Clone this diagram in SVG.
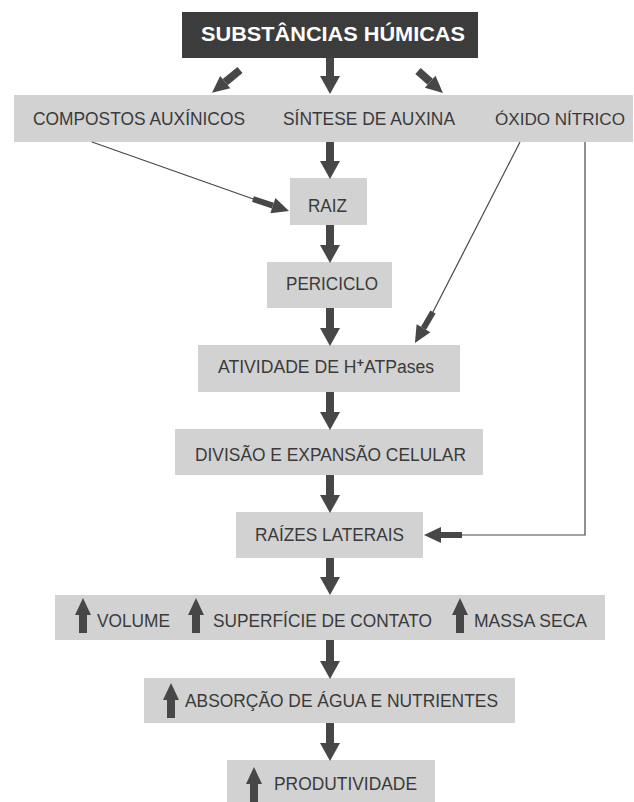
<svg xmlns="http://www.w3.org/2000/svg" xmlns:xlink="http://www.w3.org/1999/xlink" width="634" height="802" viewBox="0 0 634 802">
<style>
.box{fill:#d2d2d2}
.dark{fill:#3c3c3c}
.t{font-family:"Liberation Sans",Arial,sans-serif;font-size:19px;fill:#3a3a3a}
.tw{font-family:"Liberation Sans",Arial,sans-serif;font-size:20px;font-weight:bold;fill:#ffffff}
.thick{stroke:#474747;stroke-width:8;fill:none}
.mid{stroke:#474747;stroke-width:6;fill:none}
.thin{stroke:#474747;stroke-width:1.2;fill:none}
.up{fill:#474747}
</style>
<defs>
<marker id="head" markerUnits="userSpaceOnUse" markerWidth="18" markerHeight="20" refX="0" refY="10" orient="auto" overflow="visible">
<path d="M0,0 L18,10 L0,20 Z" fill="#474747"/>
</marker>
<marker id="headS" markerUnits="userSpaceOnUse" markerWidth="17" markerHeight="16" refX="0" refY="8" orient="auto" overflow="visible">
<path d="M0,0 L17,8 L0,16 Z" fill="#474747"/>
</marker>
<path id="uparrow" d="M0,0 L8,17 L4,17 L4,35 L-4,35 L-4,17 L-8,17 Z"/>
</defs>

<g id="substancias">
<rect class="dark" x="182" y="12" width="296" height="46"/>
<text class="tw" x="201" y="41" textLength="264" lengthAdjust="spacingAndGlyphs">SUBSTÂNCIAS HÚMICAS</text>
</g>

<g id="band1">
<rect class="box" x="14" y="95" width="619" height="47"/>
</g>
<g id="compostos">
<text class="t" x="33" y="125" textLength="212" lengthAdjust="spacingAndGlyphs">COMPOSTOS AUXÍNICOS</text>
</g>
<g id="sintese">
<text class="t" x="283" y="125" textLength="172" lengthAdjust="spacingAndGlyphs">SÍNTESE DE AUXINA</text>
</g>
<g id="oxido">
<text class="t" x="495" y="125" style="font-size:17px" textLength="130" lengthAdjust="spacingAndGlyphs">ÓXIDO NÍTRICO</text>
</g>

<g id="raiz">
<rect class="box" x="290" y="178" width="77" height="47"/>
<text class="t" x="308" y="212" textLength="39" lengthAdjust="spacingAndGlyphs">RAIZ</text>
</g>

<g id="periciclo">
<rect class="box" x="267" y="262" width="125" height="46"/>
<text class="t" x="286" y="290" textLength="92" lengthAdjust="spacingAndGlyphs">PERICICLO</text>
</g>

<g id="atividade">
<rect class="box" x="198" y="345" width="262" height="47"/>
<text class="t" x="218" y="373" style="font-size:17.6px">ATIVIDADE DE H<tspan style="font-size:13px;font-weight:bold" dy="-6">+</tspan><tspan dy="6">ATPases</tspan></text>
</g>

<g id="divisao">
<rect class="box" x="175" y="429" width="308" height="46"/>
<text class="t" x="195" y="461" textLength="271" lengthAdjust="spacingAndGlyphs">DIVISÃO E EXPANSÃO CELULAR</text>
</g>

<g id="raizes">
<rect class="box" x="236" y="512" width="187" height="46"/>
<text class="t" x="255" y="541" textLength="149" lengthAdjust="spacingAndGlyphs">RAÍZES LATERAIS</text>
</g>

<g id="band2">
<rect class="box" x="55" y="595" width="550" height="45"/>
</g>
<g id="volume">
<use href="#uparrow" class="up" x="83" y="598"/>
<text class="t" x="97" y="627" textLength="73" lengthAdjust="spacingAndGlyphs">VOLUME</text>
</g>
<g id="superficie">
<use href="#uparrow" class="up" x="196" y="598"/>
<text class="t" x="213" y="627" textLength="219" lengthAdjust="spacingAndGlyphs">SUPERFÍCIE DE CONTATO</text>
</g>
<g id="massa">
<use href="#uparrow" class="up" x="460" y="598"/>
<text class="t" x="474" y="627" textLength="113" lengthAdjust="spacingAndGlyphs">MASSA SECA</text>
</g>

<g id="absorcao">
<rect class="box" x="144" y="678" width="371" height="45"/>
<use href="#uparrow" class="up" x="171" y="683"/>
<text class="t" x="185" y="707" textLength="313" lengthAdjust="spacingAndGlyphs">ABSORÇÃO DE ÁGUA E NUTRIENTES</text>
</g>

<g id="produtividade">
<rect class="box" x="227" y="760" width="208" height="50"/>
<use href="#uparrow" class="up" x="254" y="767"/>
<text class="t" x="274" y="790" textLength="143" lengthAdjust="spacingAndGlyphs">PRODUTIVIDADE</text>
</g>

<g id="connectors">
<line class="thick" x1="240" y1="70" x2="225.2" y2="82.1" marker-end="url(#headS)"/>
<line class="thick" x1="330" y1="58" x2="330" y2="76" marker-end="url(#head)"/>
<line class="thick" x1="418" y1="71" x2="430.2" y2="81.8" marker-end="url(#headS)"/>

<line class="thick" x1="330" y1="142" x2="330" y2="161" marker-end="url(#head)"/>
<line class="thick" x1="330" y1="225" x2="330" y2="245" marker-end="url(#head)"/>
<line class="thick" x1="330" y1="308" x2="330" y2="328" marker-end="url(#head)"/>
<line class="thick" x1="330" y1="392" x2="330" y2="412" marker-end="url(#head)"/>
<line class="thick" x1="330" y1="475" x2="330" y2="495" marker-end="url(#head)"/>
<line class="thick" x1="330" y1="558" x2="330" y2="577" marker-end="url(#head)"/>
<line class="thick" x1="330" y1="640" x2="330" y2="661" marker-end="url(#head)"/>
<line class="thick" x1="330" y1="723" x2="330" y2="743" marker-end="url(#head)"/>

<line class="thin" x1="92" y1="142" x2="254" y2="199.3"/>
<line class="mid" x1="253" y1="199" x2="272.9" y2="205.6" marker-end="url(#headS)"/>

<line class="thin" x1="520" y1="142" x2="432.5" y2="313"/>
<line class="mid" x1="433" y1="312" x2="423.5" y2="328.3" marker-end="url(#headS)"/>

<polyline class="thin" points="585,142 585,535 460,535"/>
<line class="mid" x1="462" y1="535" x2="441" y2="535" marker-end="url(#headS)"/>
</g>
</svg>
